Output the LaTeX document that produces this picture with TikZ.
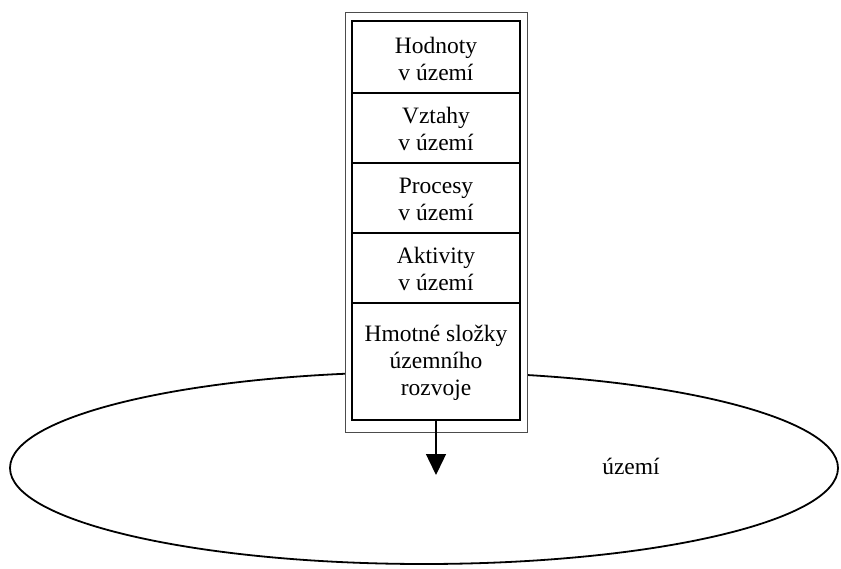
\documentclass[tikz,border=0pt]{standalone}
\usepackage{fontspec}
\setmainfont{Liberation Serif}
\usetikzlibrary{arrows.meta}
\begin{document}
\begin{tikzpicture}[x=1pt,y=-1pt,
  lbl/.style={align=center,font=\fontsize{23.5}{27}\selectfont,inner sep=0pt},
  thinframe/.style={draw=black!70,line width=0.9pt,fill=white},
  thickframe/.style={draw=black,line width=2.8pt},
  divider/.style={draw=black,line width=1.3pt}]
\useasboundingbox (0,0) rectangle (841,568);
\draw[line width=1.8pt] (424,468) ellipse [x radius=414, y radius=96];
\node[thinframe,minimum width=182pt,minimum height=420pt,inner sep=0pt] (outer) at (436,222) {};
\node[thickframe,minimum width=168pt,minimum height=399pt,inner sep=0pt] (inner) at (436,220.5) {};
\coordinate (d1l) at (352,93); \coordinate (d1r) at (520,93);
\coordinate (d2l) at (352,163); \coordinate (d2r) at (520,163);
\coordinate (d3l) at (352,233); \coordinate (d3r) at (520,233);
\coordinate (d4l) at (352,303); \coordinate (d4r) at (520,303);
\draw[divider] (d1l) -- (d1r);
\draw[divider] (d2l) -- (d2r);
\draw[divider] (d3l) -- (d3r);
\draw[divider] (d4l) -- (d4r);
\node[lbl] (hod) at (436,59) {Hodnoty\\v území};
\node[lbl] (vzt) at (436,129) {Vztahy\\v území};
\node[lbl] (pro) at (436,199) {Procesy\\v území};
\node[lbl] (akt) at (436,269) {Aktivity\\v území};
\node[lbl] (hmo) at (436,363) {Hmotné složky\\územního\\rozvoje};
\node[lbl] (uz) at (631,466) {území};
\coordinate (tip) at (436,475);
\draw[line width=1.4pt,-{Triangle[length=21pt,width=20pt]}] (inner.south) -- (tip);
\end{tikzpicture}
\end{document}
